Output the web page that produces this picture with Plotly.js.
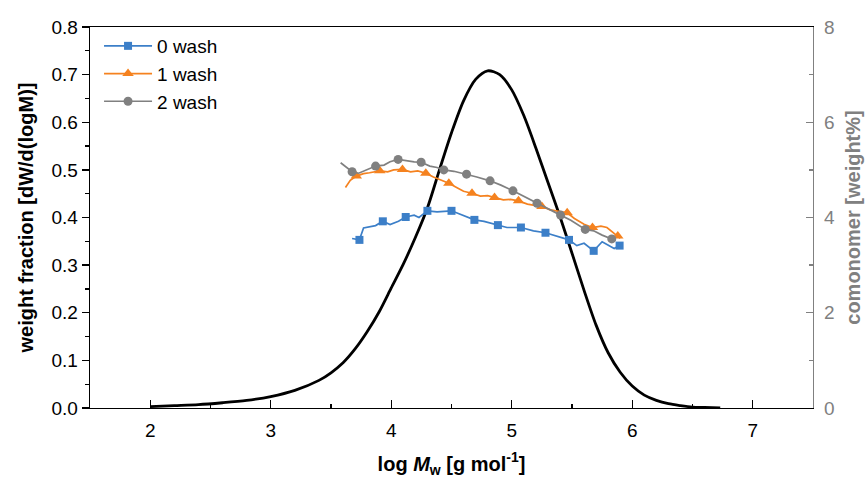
<!DOCTYPE html>
<html>
<head>
<meta charset="utf-8">
<script src="https://cdn.plot.ly/plotly-3.0.1.min.js"></script>
<style>html,body{margin:0;padding:0;background:#fff;}#chart{width:866px;height:478px;}</style>
</head>
<body>
<div id="chart"></div>
<script>
// Molecular weight distribution (left axis)
const mwdLogM = [2.0, 2.2, 2.4, 2.6, 2.8, 3.0, 3.2, 3.4, 3.5, 3.6, 3.7, 3.8, 3.9, 4.0, 4.1, 4.2, 4.3, 4.4, 4.5, 4.6, 4.7, 4.8, 4.9, 5.0, 5.1, 5.2, 5.3, 5.4, 5.5, 5.6, 5.7, 5.8, 5.9, 6.0, 6.1, 6.2, 6.3, 6.4, 6.5, 6.6, 6.73];
const mwdWeight = [0.003, 0.005, 0.007, 0.011, 0.016, 0.024, 0.037, 0.058, 0.074, 0.095, 0.124, 0.160, 0.202, 0.252, 0.302, 0.358, 0.420, 0.500, 0.578, 0.645, 0.690, 0.708, 0.700, 0.668, 0.614, 0.546, 0.474, 0.402, 0.325, 0.247, 0.174, 0.116, 0.075, 0.046, 0.027, 0.016, 0.009, 0.005, 0.002, 0.001, 0.0];

// Comonomer content (right axis) - continuous lines
const wash0LineX = [3.675, 3.736, 3.77, 3.81, 3.87, 3.93, 3.99, 4.06, 4.12, 4.19, 4.23, 4.30, 4.38, 4.50, 4.57, 4.69, 4.77, 4.885, 4.96, 5.076, 5.18, 5.28, 5.38, 5.475, 5.54, 5.60, 5.68, 5.75, 5.82, 5.85, 5.895];
const wash0LineY = [3.56, 3.53, 3.78, 3.80, 3.83, 3.92, 3.85, 3.92, 4.01, 4.05, 4.00, 4.14, 4.12, 4.14, 4.07, 3.95, 3.92, 3.84, 3.79, 3.79, 3.72, 3.68, 3.60, 3.53, 3.41, 3.46, 3.30, 3.49, 3.39, 3.35, 3.41];
const wash1LineX = [3.62, 3.66, 3.71, 3.77, 3.82, 3.905, 3.97, 4.02, 4.093, 4.16, 4.22, 4.287, 4.35, 4.41, 4.478, 4.55, 4.60, 4.67, 4.74, 4.80, 4.857, 4.93, 4.99, 5.056, 5.13, 5.18, 5.25, 5.32, 5.40, 5.46, 5.52, 5.60, 5.67, 5.74, 5.79, 5.85, 5.88, 5.90];
const wash1LineY = [4.63, 4.78, 4.87, 4.92, 4.94, 4.98, 4.96, 5.00, 5.01, 4.96, 4.98, 4.93, 4.85, 4.79, 4.72, 4.62, 4.55, 4.51, 4.45, 4.46, 4.42, 4.37, 4.38, 4.35, 4.28, 4.26, 4.23, 4.16, 4.13, 4.10, 3.98, 3.86, 3.79, 3.82, 3.79, 3.66, 3.61, 3.56];
const wash2LineX = [3.58, 3.62, 3.675, 3.73, 3.80, 3.87, 3.94, 3.99, 4.057, 4.13, 4.19, 4.248, 4.32, 4.38, 4.436, 4.52, 4.625, 4.71, 4.82, 4.91, 5.01, 5.10, 5.21, 5.29, 5.405, 5.49, 5.56, 5.61, 5.68, 5.75, 5.83, 5.85];
const wash2LineY = [5.15, 5.07, 4.96, 4.93, 5.00, 5.08, 5.10, 5.17, 5.22, 5.19, 5.17, 5.16, 5.08, 5.05, 5.00, 4.97, 4.91, 4.85, 4.77, 4.68, 4.56, 4.44, 4.30, 4.20, 4.05, 3.94, 3.82, 3.75, 3.72, 3.63, 3.55, 3.60];

// Comonomer content - marker points
const wash0MarkX = [3.736, 3.93, 4.12, 4.30, 4.50, 4.69, 4.885, 5.076, 5.28, 5.475, 5.68, 5.895];
const wash0MarkY = [3.53, 3.92, 4.01, 4.14, 4.14, 3.95, 3.84, 3.79, 3.68, 3.53, 3.30, 3.41];
const wash1MarkX = [3.71, 3.905, 4.093, 4.287, 4.478, 4.67, 4.857, 5.056, 5.25, 5.46, 5.67, 5.88];
const wash1MarkY = [4.87, 4.98, 5.01, 4.93, 4.72, 4.51, 4.42, 4.35, 4.23, 4.10, 3.79, 3.61];
const wash2MarkX = [3.675, 3.87, 4.057, 4.248, 4.436, 4.625, 4.82, 5.01, 5.21, 5.405, 5.61, 5.83];
const wash2MarkY = [4.96, 5.08, 5.22, 5.16, 5.00, 4.91, 4.77, 4.56, 4.30, 4.05, 3.75, 3.55];

const seriesNames = ['0 wash', '1 wash', '2 wash'];

const BLUE = '#3C7FC8', ORANGE = '#F5821F', GRAY = '#808080';
const FONT = 'Liberation Sans, Arial, sans-serif';

const traces = [];
traces.push({x: mwdLogM, y: mwdWeight, mode: 'lines', line: {color: '#000', width: 2.8, shape: 'spline', smoothing: 0.8}, showlegend: false, yaxis: 'y', hoverinfo: 'skip'});

const defs = [
  {lx: wash0LineX, ly: wash0LineY, mx: wash0MarkX, my: wash0MarkY, c: BLUE, sym: 'square', size: 8},
  {lx: wash1LineX, ly: wash1LineY, mx: wash1MarkX, my: wash1MarkY, c: ORANGE, sym: 'triangle-up', size: 10},
  {lx: wash2LineX, ly: wash2LineY, mx: wash2MarkX, my: wash2MarkY, c: GRAY, sym: 'circle', size: 9}
];
defs.forEach((d, i) => {
  traces.push({x: d.lx, y: d.ly, mode: 'lines', yaxis: 'y2', line: {color: d.c, width: 1.7}, showlegend: false});
  traces.push({x: d.mx, y: d.my, mode: 'markers', yaxis: 'y2', marker: {color: d.c, symbol: d.sym, size: d.size}, showlegend: false});
  traces.push({x: [null], y: [null], mode: 'lines+markers', yaxis: 'y2', name: seriesNames[i], line: {color: d.c, width: 1.7}, marker: {color: d.c, symbol: d.sym, size: d.size}});
});

const layout = {
  width: 866, height: 478,
  margin: {l: 90, r: 53, t: 27, b: 70},
  paper_bgcolor: '#fff', plot_bgcolor: '#fff',
  font: {family: FONT, size: 19, color: '#000'},
  showlegend: true,
  legend: {x: 0.0125, y: 1.0, xanchor: 'left', yanchor: 'top', bgcolor: 'rgba(0,0,0,0)', font: {size: 19, family: FONT}, tracegroupgap: 0, itemwidth: 48},
  xaxis: {
    range: [1.5, 7.5], dtick: 1, tick0: 0,
    showgrid: false, zeroline: false,
    showline: true, linecolor: '#000', linewidth: 1.3, mirror: true,
    ticks: 'inside', ticklen: 8, tickwidth: 1.3, tickcolor: '#000',
    minor: {dtick: 0.5, ticks: 'inside', ticklen: 4, tickwidth: 1.3, tickcolor: '#000'},
    ticklabelstandoff: 5,
    tickfont: {size: 19},
    title: {text: '<b>log <i>M</i><sub>w</sub> [g mol<sup>-1</sup>]</b>', font: {size: 20}, standoff: 19}
  },
  yaxis: {
    range: [0, 0.8], dtick: 0.1, tick0: 0, tickformat: '.1f',
    showgrid: false, zeroline: false,
    showline: true, linecolor: '#000', linewidth: 1.3,
    ticks: 'outside', ticklen: 7, tickwidth: 1.3, tickcolor: '#000',
    minor: {dtick: 0.05, ticks: 'outside', ticklen: 4, tickwidth: 1.3, tickcolor: '#000'},
    tickfont: {size: 19},
    title: {text: '<b>weight fraction [dW/d(logM)]</b>', font: {size: 20}, standoff: 12}
  },
  yaxis2: {
    overlaying: 'y', side: 'right', anchor: 'x',
    range: [0, 8], dtick: 2, tick0: 0,
    showgrid: false, zeroline: false,
    showline: true, linecolor: GRAY, linewidth: 1.3,
    ticks: 'inside', ticklen: 7, tickwidth: 1.3, tickcolor: GRAY,
    minor: {dtick: 1, ticks: 'inside', ticklen: 4, tickwidth: 1.3, tickcolor: GRAY},
    ticklabelstandoff: 6,
    tickfont: {size: 19, color: GRAY},
    title: {text: '<b>comonomer [weight%]</b>', font: {size: 20, color: GRAY}, standoff: 12}
  }
};

Plotly.newPlot('chart', traces, layout, {displayModeBar: false, staticPlot: true});
</script>
</body>
</html>
